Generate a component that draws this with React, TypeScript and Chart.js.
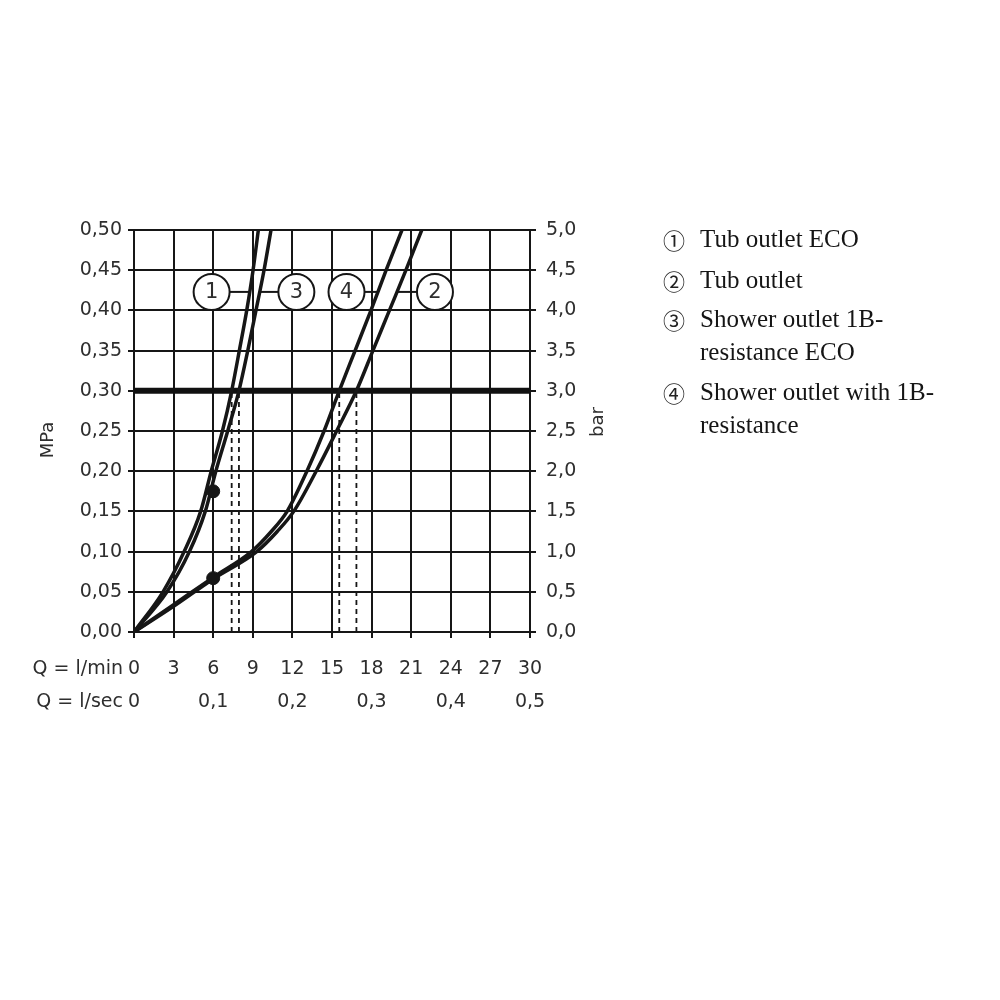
import React, { useEffect, useRef } from "react";
import { Chart, registerables } from "chart.js";

Chart.register(...registerables);

// ---- Data ----
// Flow Q in l/min, pressure p in MPa
const CURVE_1_Q = [0, 2.2, 3.8, 5.05, 5.85, 6.7, 7.4, 7.98, 8.54, 9.02, 9.42];
const CURVE_1_P = [0, 0.05, 0.1, 0.15, 0.2, 0.25, 0.3, 0.35, 0.4, 0.45, 0.5];

const CURVE_3_Q = [0, 2.5, 4.2, 5.4, 6.2, 7.1, 7.95, 8.62, 9.24, 9.85, 10.38];
const CURVE_3_P = [0, 0.05, 0.1, 0.15, 0.2, 0.25, 0.3, 0.35, 0.4, 0.45, 0.5];

const CURVE_4_Q = [0, 3, 6, 8.9, 10.4, 11.6, 13.1, 14.4, 15.55, 16.75, 17.95, 19.1, 20.3];
const CURVE_4_P = [0, 0.034, 0.068, 0.1, 0.125, 0.15, 0.2, 0.25, 0.3, 0.35, 0.4, 0.45, 0.5];

const CURVE_2_Q = [0, 3, 6, 9.3, 10.85, 12.1, 13.8, 15.35, 16.85, 18.1, 19.35, 20.6, 21.8];
const CURVE_2_P = [0, 0.032, 0.066, 0.1, 0.125, 0.15, 0.2, 0.25, 0.3, 0.35, 0.4, 0.45, 0.5];

const REFERENCE_PRESSURE = 0.3; // MPa (3 bar)
const MARKER_Q = [6, 6];
const MARKER_P = [0.175, 0.067];

// callout circles: label, centre (Q, p), which curve it points to
const CALLOUT_LABELS = ["1", "3", "4", "2"];
const CALLOUT_Q = [5.88, 12.3, 16.1, 22.8];
const CALLOUT_P = [0.423, 0.423, 0.423, 0.423];

const Q_MIN_MAX = 30; // l/min
const Q_SEC_MAX = 0.5; // l/sec
const P_MAX = 0.5; // MPa
const BAR_MAX = 5; // bar

const LEGEND_SYMBOLS = ["①", "②", "③", "④"];
const LEGEND_LINES = [
  ["Tub outlet ECO"],
  ["Tub outlet"],
  ["Shower outlet 1B-", "resistance ECO"],
  ["Shower outlet with 1B-", "resistance"],
];

const INK = "#161616";
const TEXT = "#2e2e2e";
const TICK_FONT = { family: "'DejaVu Sans'", size: 19 };

const zip = (qs: number[], ps: number[]) => qs.map((q, i) => ({ x: q, y: ps[i] }));

const CURVES: Record<string, { q: number[]; p: number[] }> = {
  "1": { q: CURVE_1_Q, p: CURVE_1_P },
  "2": { q: CURVE_2_Q, p: CURVE_2_P },
  "3": { q: CURVE_3_Q, p: CURVE_3_P },
  "4": { q: CURVE_4_Q, p: CURVE_4_P },
};

function qAtPressure(q: number[], p: number[], target: number) {
  for (let i = 1; i < p.length; i++) {
    if (p[i] >= target) {
      const t = (target - p[i - 1]) / (p[i] - p[i - 1]);
      return q[i - 1] + t * (q[i] - q[i - 1]);
    }
  }
  return q[q.length - 1];
}

const calloutPlugin = {
  id: "callouts",
  afterDatasetsDraw(chart: any) {
    const { ctx, scales } = chart;
    const xs = scales.x;
    const ys = scales.y;
    const r = 18;
    ctx.save();
    CALLOUT_LABELS.forEach((lab, i) => {
      const cx = xs.getPixelForValue(CALLOUT_Q[i]);
      const cy = ys.getPixelForValue(CALLOUT_P[i]);
      const c = CURVES[lab];
      const qc = qAtPressure(c.q, c.p, CALLOUT_P[i]);
      const px = xs.getPixelForValue(qc);
      const edge = px > cx ? cx + r : cx - r;
      ctx.strokeStyle = INK;
      ctx.lineWidth = 2;
      ctx.beginPath();
      ctx.moveTo(edge, cy);
      ctx.lineTo(px, cy);
      ctx.stroke();
      ctx.beginPath();
      ctx.arc(cx, cy, r, 0, Math.PI * 2);
      ctx.fillStyle = "#fff";
      ctx.fill();
      ctx.stroke();
      ctx.fillStyle = TEXT;
      ctx.font = "21px 'DejaVu Sans'";
      ctx.textAlign = "center";
      ctx.textBaseline = "middle";
      ctx.fillText(lab, cx, cy + 1);
    });
    ctx.restore();
  },
  afterDraw(chart: any) {
    const { ctx, chartArea } = chart;
    ctx.save();
    ctx.fillStyle = TEXT;
    ctx.font = "19px 'DejaVu Sans'";
    ctx.textAlign = "right";
    ctx.textBaseline = "middle";
    ctx.fillText("Q = l/min", chartArea.left - 11, chartArea.bottom + 37);
    ctx.fillText("Q = l/sec", chartArea.left - 11, chartArea.bottom + 70);
    // axis titles
    ctx.font = "18px 'DejaVu Sans'";
    ctx.textAlign = "center";
    ctx.save();
    ctx.translate(chartArea.left - 86, 440);
    ctx.rotate(-Math.PI / 2);
    ctx.fillText("MPa", 0, 0);
    ctx.restore();
    ctx.save();
    ctx.translate(chartArea.right + 68, 422);
    ctx.rotate(-Math.PI / 2);
    ctx.fillText("bar", 0, 0);
    ctx.restore();
    ctx.restore();
  },
};

export default function App() {
  const ref = useRef<HTMLCanvasElement | null>(null);

  useEffect(() => {
    if (!ref.current) return;
    const curveStyle = {
      borderColor: INK,
      borderWidth: 3.5,
      pointRadius: 0,
      cubicInterpolationMode: "monotone" as const,
      fill: false,
    };
    const dashed = ["1", "3", "4", "2"].map((k) => {
      const q = qAtPressure(CURVES[k].q, CURVES[k].p, REFERENCE_PRESSURE);
      return {
        type: "line" as const,
        data: [
          { x: q, y: 0 },
          { x: q, y: REFERENCE_PRESSURE },
        ],
        borderColor: INK,
        borderWidth: 1.8,
        borderDash: [5, 4],
        pointRadius: 0,
        order: 4,
      };
    });

    const chart = new Chart(ref.current, {
      type: "line",
      data: {
        datasets: [
          {
            type: "scatter" as any,
            data: zip(MARKER_Q, MARKER_P),
            backgroundColor: INK,
            borderColor: INK,
            pointRadius: 6.5,
            showLine: false,
            order: 0,
          },
          { data: zip(CURVE_1_Q, CURVE_1_P), ...curveStyle, order: 1 },
          { data: zip(CURVE_3_Q, CURVE_3_P), ...curveStyle, order: 1 },
          { data: zip(CURVE_4_Q, CURVE_4_P), ...curveStyle, order: 1 },
          { data: zip(CURVE_2_Q, CURVE_2_P), ...curveStyle, order: 1 },
          {
            data: [
              { x: 0, y: REFERENCE_PRESSURE },
              { x: Q_MIN_MAX, y: REFERENCE_PRESSURE },
            ],
            borderColor: "#111",
            borderWidth: 6,
            pointRadius: 0,
            order: 3,
          },
          ...dashed,
        ] as any,
      },
      options: {
        responsive: false,
        animation: false,
        devicePixelRatio: 1,
        layout: { padding: { left: 0, right: 400, top: 230, bottom: 280 } },
        plugins: { legend: { display: false }, tooltip: { enabled: false } },
        scales: {
          x: {
            type: "linear",
            position: "bottom",
            min: 0,
            max: Q_MIN_MAX,
            weight: 0,
            afterFit: (s: any) => {
              s.height = 48;
            },
            grid: { color: INK, lineWidth: 2, tickLength: 6 },
            border: { color: INK, width: 2 },
            ticks: {
              stepSize: 3,
              autoSkip: false,
              maxRotation: 0,
              padding: 20,
              color: TEXT,
              font: TICK_FONT,
              callback: (v: any) => String(v),
            },
          },
          x2: {
            type: "linear",
            position: "bottom",
            min: 0,
            max: Q_SEC_MAX,
            weight: 1,
            afterFit: (s: any) => {
              s.height = 40;
            },
            grid: { display: false, drawTicks: false },
            border: { display: false },
            ticks: {
              stepSize: 0.1,
              autoSkip: false,
              maxRotation: 0,
              padding: 11,
              color: TEXT,
              font: TICK_FONT,
              callback: (v: any) => (Number(v) === 0 ? "0" : Number(v).toFixed(1).replace(".", ",")),
            },
          },
          y: {
            type: "linear",
            position: "left",
            min: 0,
            max: P_MAX,
            afterFit: (s: any) => {
              s.width = 134;
            },
            grid: { color: INK, lineWidth: 2, tickLength: 6 },
            border: { color: INK, width: 2 },
            ticks: {
              stepSize: 0.05,
              autoSkip: false,
              padding: 6,
              color: TEXT,
              font: TICK_FONT,
              callback: (v: any) => Number(v).toFixed(2).replace(".", ","),
            },
          },
          y2: {
            type: "linear",
            position: "right",
            min: 0,
            max: BAR_MAX,
            afterFit: (s: any) => {
              s.width = 70;
            },
            grid: { drawOnChartArea: false, color: INK, lineWidth: 2, tickLength: 6 },
            border: { color: INK, width: 2 },
            ticks: {
              stepSize: 0.5,
              autoSkip: false,
              padding: 10,
              color: TEXT,
              font: TICK_FONT,
              callback: (v: any) => Number(v).toFixed(1).replace(".", ","),
            },
          },
        },
      } as any,
      plugins: [calloutPlugin],
    });
    return () => chart.destroy();
  }, []);

  const itemTops = [223, 264, 303, 376];

  return (
    <div style={{ position: "absolute", left: 0, top: 0, width: 1000, height: 1000, background: "#fff" }}>
      <canvas ref={ref} width={1000} height={1000} style={{ position: "absolute", left: 0, top: 0 }} />
      {LEGEND_LINES.map((lines, i) => (
        <div key={i} style={{ position: "absolute", left: 0, top: itemTops[i], width: 1000 }}>
          <span
            style={{
              position: "absolute",
              left: 663,
              top: 0,
              fontFamily: "'Noto Sans CJK JP'",
              fontSize: 22,
              lineHeight: "32px",
              color: "#222",
            }}
          >
            {LEGEND_SYMBOLS[i]}
          </span>
          <div
            style={{
              position: "absolute",
              left: 700,
              top: 0,
              fontFamily: "'Liberation Serif'",
              fontSize: 25,
              lineHeight: "32.5px",
              color: "#151515",
              whiteSpace: "nowrap",
            }}
          >
            {lines.map((l, j) => (
              <div key={j}>{l}</div>
            ))}
          </div>
        </div>
      ))}
    </div>
  );
}
